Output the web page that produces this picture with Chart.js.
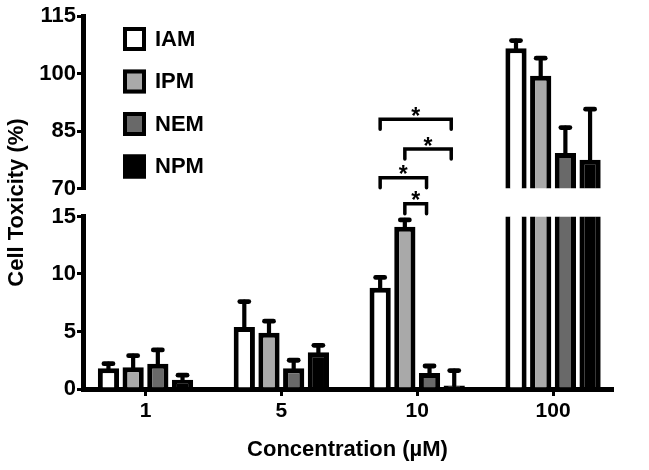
<!DOCTYPE html>
<html>
<head>
<meta charset="utf-8">
<style>
html,body{margin:0;padding:0;background:#ffffff;}
canvas{display:block;}
</style>
<script src="https://cdn.jsdelivr.net/npm/chart.js@4/dist/chart.umd.min.js"></script>
</head>
<body>
<canvas id="c" width="649" height="470"></canvas>
<script>
// ---- data ----
const categories = ['1', '5', '10', '100'];
const seriesNames = ['IAM', 'IPM', 'NEM', 'NPM'];
const iam = [1.8, 5.4, 8.8, 106.6];
const ipm = [1.9, 4.9, 14.1, 99.4];
const nem = [2.2, 1.8, 1.4, 79.3];
const npm = [0.8, 3.2, 0.3, 77.5];
const iamErr = [0.4, 2.2, 0.9, 2.0];
const ipmErr = [1.0, 1.0, 0.6, 4.6];
const nemErr = [1.2, 0.7, 0.6, 6.6];
const npmErr = [0.4, 0.6, 1.3, 13.2];
const upperTicks = [70, 85, 100, 115];
const lowerTicks = [0, 5, 10, 15];
// significance brackets (category "10"): series pairs, bracket level, axis
const sigGroup = 2;
const sigPairs = [[0, 3], [1, 3], [0, 2], [1, 2]];
const sigLevels = [88.1, 80.3, 72.8, 16.1];
const sigAxes = ['yTop', 'yTop', 'yTop', 'yLow'];

// ---- styling ----
const FONT = "'Liberation Sans', Arial, Helvetica, sans-serif";
const fills = ['#ffffff', '#a9a9a9', '#696969', '#000000'];
const values = [iam, ipm, nem, npm];
const errors = [iamErr, ipmErr, nemErr, npmErr];

const datasets = [];
seriesNames.forEach((name, s) => {
  datasets.push({
    label: name, stack: name, xAxisID: 'x', yAxisID: 'yLow', errors: errors[s],
    data: values[s].map((v, i) => ({x: i, y: v})),
    backgroundColor: fills[s], borderColor: '#000', borderWidth: 5, borderSkipped: 'start'
  });
});
seriesNames.forEach((name, s) => {
  datasets.push({
    label: name, stack: name, xAxisID: 'x', yAxisID: 'yTop', errors: errors[s],
    data: values[s].map((v, i) => ({x: i, y: v})).filter(p => p.y >= upperTicks[0]),
    backgroundColor: fills[s], borderColor: '#000', borderWidth: 5, borderSkipped: 'start'
  });
});

const segmentClip = {
  id: 'segmentClip',
  beforeDatasetDraw(chart, args) {
    const s = args.meta.yScale;
    const ctx = chart.ctx;
    ctx.save();
    ctx.beginPath();
    if (s.id === 'yLow') ctx.rect(0, s.top, chart.width, chart.height - s.top);
    else ctx.rect(0, 0, chart.width, s.bottom);
    ctx.clip();
  },
  afterDatasetDraw(chart) { chart.ctx.restore(); }
};

const errorBars = {
  id: 'errorBars',
  afterDatasetsDraw(chart) {
    const ctx = chart.ctx;
    chart.data.datasets.forEach((ds, di) => {
      const meta = chart.getDatasetMeta(di);
      const ys = chart.scales[ds.yAxisID];
      meta.data.forEach((bar, j) => {
        const p = meta.controller.getParsed(j);
        if (p.y > ys.max || p.y < ys.min) return;
        const yE = ys.getPixelForValue(p.y + ds.errors[p.x]);
        ctx.save();
        ctx.strokeStyle = '#000';
        ctx.lineCap = 'round';
        ctx.lineWidth = 4.2;
        ctx.beginPath(); ctx.moveTo(bar.x, bar.y); ctx.lineTo(bar.x, yE); ctx.stroke();
        ctx.lineWidth = 4.8;
        ctx.beginPath(); ctx.moveTo(bar.x - 4.5, yE); ctx.lineTo(bar.x + 4.5, yE); ctx.stroke();
        ctx.restore();
      });
    });
  }
};

const significance = {
  id: 'significance',
  afterDatasetsDraw(chart) {
    const ctx = chart.ctx;
    sigPairs.forEach((pair, k) => {
      const ys = chart.scales[sigAxes[k]];
      const y = ys.getPixelForValue(sigLevels[k]);
      const x1 = chart.getDatasetMeta(pair[0]).data[sigGroup].x;
      const x2 = chart.getDatasetMeta(pair[1]).data[sigGroup].x - 3;
      ctx.save();
      ctx.strokeStyle = '#000';
      ctx.lineWidth = 3.5;
      ctx.lineCap = 'round';
      ctx.lineJoin = 'miter';
      ctx.beginPath();
      ctx.moveTo(x1, y + 10); ctx.lineTo(x1, y); ctx.lineTo(x2, y); ctx.lineTo(x2, y + 10);
      ctx.stroke();
      ctx.fillStyle = '#000';
      ctx.font = 'bold 23px ' + FONT;
      ctx.textAlign = 'center';
      ctx.textBaseline = 'alphabetic';
      ctx.fillText('*', (x1 + x2) / 2, y + 4.5);
      ctx.restore();
    });
  }
};

const boxLegend = {
  id: 'boxLegend',
  afterDraw(chart) {
    const ctx = chart.ctx;
    const a = chart.chartArea;
    seriesNames.forEach((name, s) => {
      const bx = a.left + 40, by = a.top + 11 + s * 42.5;
      ctx.save();
      ctx.fillStyle = fills[s];
      ctx.fillRect(bx, by, 23, 24);
      ctx.strokeStyle = '#000';
      ctx.lineWidth = 4;
      ctx.strokeRect(bx + 2, by + 2, 19, 20);
      ctx.fillStyle = '#000';
      ctx.font = 'bold 22px ' + FONT;
      ctx.textAlign = 'left';
      ctx.textBaseline = 'middle';
      ctx.fillText(name, bx + 32, by + 12.5);
      ctx.restore();
    });
  }
};

const tickFont = {family: FONT, size: 22, weight: 'bold'};
const yGrid = {display: true, drawOnChartArea: false, drawTicks: true, tickLength: 6, color: '#000', lineWidth: 3};
const yBorder = {display: true, color: '#000', width: 5};

new Chart(document.getElementById('c'), {
  type: 'bar',
  data: {datasets},
  plugins: [segmentClip, errorBars, significance, boxLegend],
  options: {
    responsive: false,
    animation: false,
    devicePixelRatio: 1,
    categoryPercentage: 0.727,
    barPercentage: 0.86,
    layout: {padding: {left: 0, right: 37, top: 16, bottom: 0}},
    plugins: {legend: {display: false}, tooltip: {enabled: false}},
    scales: {
      x: {
        type: 'linear', position: 'bottom', min: -0.46, max: 3.434, offset: false, z: 1,
        afterFit: s => { s.height = 81; },
        afterBuildTicks: s => { s.ticks = categories.map((c, i) => ({value: i})); },
        ticks: {callback: v => categories[v], font: {family: FONT, size: 21, weight: 'bold'}, color: '#000', padding: 3, maxRotation: 0, autoSkip: false},
        grid: {display: true, drawOnChartArea: false, drawTicks: true, tickLength: 7, color: '#000', lineWidth: 3, offset: false},
        border: {display: true, color: '#000', width: 5},
        title: {display: true, text: 'Concentration (\u00b5M)', color: '#000', font: {family: FONT, size: 22, weight: 'bold'}, padding: {top: 4, bottom: 7}}
      },
      yTop: {
        type: 'linear', position: 'left', stack: 'v', stackWeight: 173, weight: 2, min: 70, max: 115, stacked: false,
        afterFit: s => { s.width = 83; },
        afterBuildTicks: s => { s.ticks = upperTicks.map(v => ({value: v})); },
        ticks: {font: tickFont, color: '#000', padding: 1},
        grid: yGrid, border: yBorder
      },
      yGap: {
        type: 'linear', position: 'left', stack: 'v', stackWeight: 28, weight: 1, min: 0, max: 1, stacked: false,
        afterFit: s => { s.width = 83; },
        ticks: {display: false},
        grid: {display: false},
        border: {display: false},
        title: {display: true, text: 'Cell Toxicity (%)', color: '#000', font: {family: FONT, size: 22, weight: 'bold'}, padding: {top: 4, bottom: 4}}
      },
      yLow: {
        type: 'linear', position: 'left', stack: 'v', stackWeight: 173, weight: 0, min: 0, max: 15, stacked: false,
        afterFit: s => { s.width = 83; },
        afterBuildTicks: s => { s.ticks = lowerTicks.map(v => ({value: v})); },
        ticks: {font: tickFont, color: '#000', padding: 1},
        grid: yGrid, border: yBorder
      }
    }
  }
});
</script>
</body>
</html>
